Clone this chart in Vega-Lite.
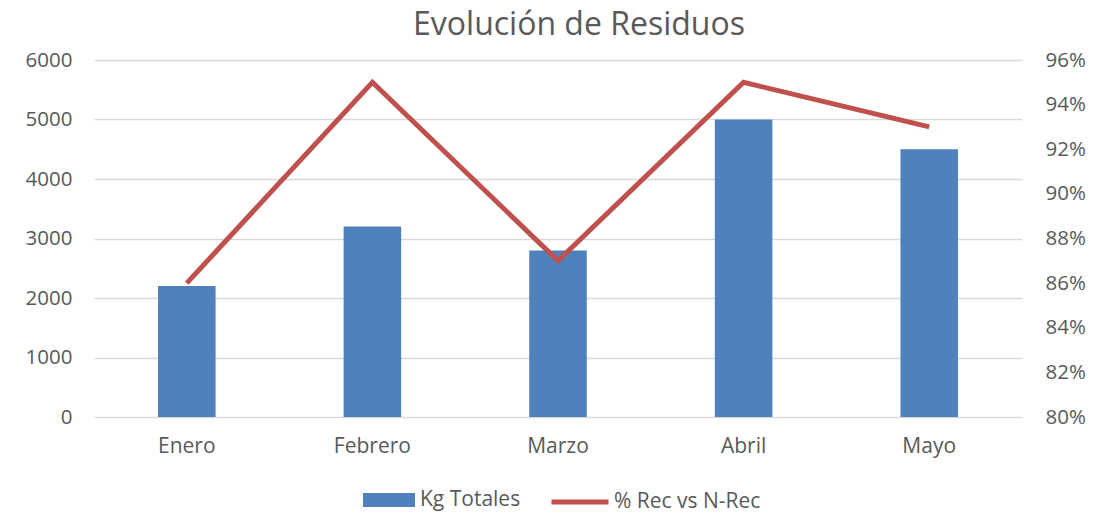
{
  "$schema": "https://vega.github.io/schema/vega-lite/v6.json",
  "autosize": {"type": "none"},
  "padding": {"left": 94, "top": 60, "right": 89, "bottom": 98},
  "width": 928,
  "height": 357,
  "background": "white",
  "title": {
    "text": "Evolución de Residuos",
    "fontSize": 32,
    "font": "Open Sans",
    "fontWeight": "normal",
    "color": "#595959",
    "anchor": "middle",
    "dx": 21,
    "offset": 8
  },
  "data": {
    "values": [
      {"mes": "Enero", "kg": 2200, "pct": 0.86},
      {"mes": "Febrero", "kg": 3200, "pct": 0.95},
      {"mes": "Marzo", "kg": 2800, "pct": 0.87},
      {"mes": "Abril", "kg": 5000, "pct": 0.95},
      {"mes": "Mayo", "kg": 4500, "pct": 0.93}
    ]
  },
  "encoding": {
    "x": {
      "field": "mes",
      "type": "nominal",
      "sort": null,
      "scale": {"paddingInner": 0.69, "paddingOuter": 0.345},
      "axis": {
        "title": null,
        "labelAngle": 0,
        "ticks": false,
        "domain": false,
        "labelPadding": 18,
        "labelFontSize": 21,
        "labelColor": "#595959",
        "labelFont": "Open Sans"
      }
    }
  },
  "layer": [
    {
      "mark": {"type": "bar", "color": "#4F81BD"},
      "encoding": {
        "y": {
          "field": "kg",
          "type": "quantitative",
          "scale": {"domain": [0, 6000], "nice": false},
          "axis": {
            "title": null,
            "values": [0, 1000, 2000, 3000, 4000, 5000, 6000],
            "format": "d",
            "ticks": false,
            "domain": false,
            "grid": true,
            "gridColor": "#d9d9d9",
            "gridWidth": 1.5,
            "labelPadding": 22,
            "labelFontSize": 20.5,
            "labelColor": "#595959",
            "labelFont": "Open Sans"
          }
        },
        "color": {
          "datum": "Kg Totales",
          "scale": {"range": ["#4F81BD"]},
          "legend": {
            "title": null,
            "orient": "none",
            "legendX": 269,
            "legendY": 414,
            "direction": "horizontal",
            "symbolType": "M-1,-0.27H1V0.27H-1Z",
            "symbolSize": 2704,
            "symbolStrokeWidth": 0,
            "labelFontSize": 21,
            "labelColor": "#595959",
            "labelFont": "Open Sans",
            "labelOffset": 5
          }
        }
      }
    },
    {
      "mark": {"type": "line", "color": "#C0504D", "strokeWidth": 5},
      "encoding": {
        "y": {
          "field": "pct",
          "type": "quantitative",
          "scale": {"domain": [0.8, 0.96], "nice": false, "zero": false},
          "axis": {
            "title": null,
            "orient": "right",
            "values": [0.8, 0.82, 0.84, 0.86, 0.88, 0.9, 0.92, 0.94, 0.96],
            "format": ".0%",
            "ticks": false,
            "domain": false,
            "grid": false,
            "labelPadding": 23,
            "labelFontSize": 20.5,
            "labelColor": "#595959",
            "labelFont": "Open Sans"
          }
        },
        "color": {
          "datum": "% Rec vs N-Rec",
          "scale": {"range": ["#C0504D"]},
          "legend": {
            "title": null,
            "orient": "none",
            "legendX": 455,
            "legendY": 411,
            "direction": "horizontal",
            "symbolType": "stroke",
            "symbolSize": 3249,
            "symbolStrokeWidth": 5,
            "labelFontSize": 21,
            "labelColor": "#595959",
            "labelFont": "Open Sans",
            "labelOffset": 3
          }
        }
      }
    }
  ],
  "resolve": {"scale": {"y": "independent", "color": "independent"}},
  "config": {
    "view": {"stroke": null}
  }
}
